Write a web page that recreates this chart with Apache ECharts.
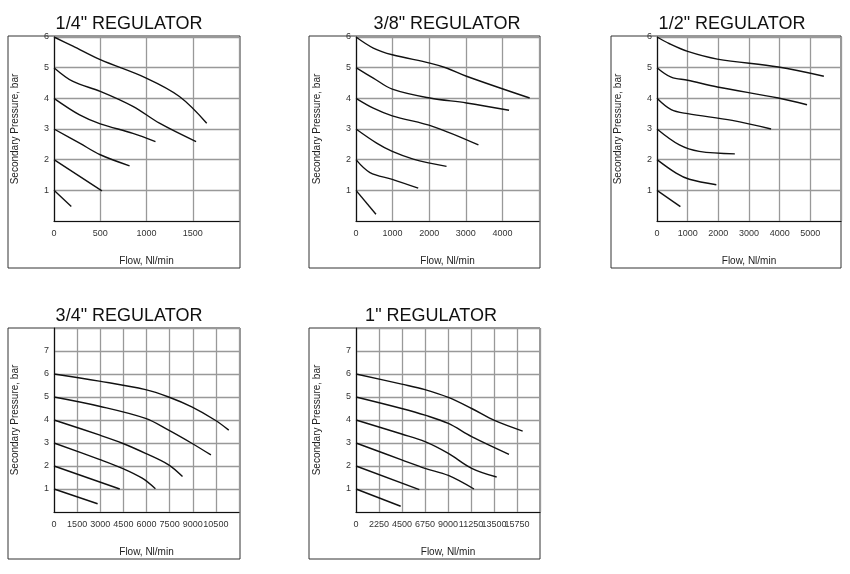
<!DOCTYPE html>
<html><head><meta charset="utf-8">
<script src="https://cdn.jsdelivr.net/npm/echarts@6/dist/echarts.min.js"></script>
<style>html,body{margin:0;padding:0;background:#fff}#c{width:850px;height:574px}</style>
</head><body><div id="c"></div>
<script>
const titles = ['1/4" REGULATOR','3/8" REGULATOR','1/2" REGULATOR','3/4" REGULATOR','1" REGULATOR'];
const xMax = [2000, 5000, 6000, 12000, 18000];
const xInterval = [500, 1000, 1000, 1500, 2250];
const yMax = [6, 6, 6, 8, 8];
// curves per panel: [flow, pressure] pairs
const p1 = [
 [[0,6],[205,5.70],[500,5.26],[997,4.66],[1356,4.06],[1651,3.19]],
 [[0,5],[205,4.55],[500,4.23],[853,3.74],[1140,3.19],[1536,2.59]],
 [[0,4],[277,3.46],[500,3.17],[853,2.86],[1097,2.59]],
 [[0,3],[277,2.54],[500,2.16],[817,1.80]],
 [[0,2],[518,0.98]],
 [[0,1],[187,0.47]]
];
const p2 = [
 [[0,6],[473,5.64],[991,5.42],[2018,5.15],[2473,4.99],[3018,4.72],[4745,4.01]],
 [[0,5],[473,4.66],[991,4.30],[2018,4.01],[3018,3.85],[4182,3.61]],
 [[0,4],[473,3.68],[991,3.43],[2109,3.08],[3345,2.48]],
 [[0,3],[564,2.54],[991,2.27],[1564,2.02],[2473,1.78]],
 [[0,2],[382,1.58],[991,1.36],[1700,1.07]],
 [[0,1],[545,0.22]]
];
const p3 = [
 [[0,6],[409,5.78],[1000,5.53],[1968,5.28],[3957,5.02],[5441,4.72]],
 [[0,5],[462,4.69],[1000,4.59],[1968,4.37],[3957,4.01],[4892,3.79]],
 [[0,4],[462,3.63],[1000,3.50],[2452,3.28],[3720,3.0]],
 [[0,3],[731,2.48],[1376,2.27],[2538,2.19]],
 [[0,2],[624,1.56],[1054,1.36],[1935,1.18]],
 [[0,1],[763,0.47]]
];
const p4 = [
 [[0,6],[2936,5.69],[5936,5.32],[7436,5.0],[8936,4.57],[10436,4.0],[11336,3.56]],
 [[0,5],[2936,4.60],[5936,4.07],[7436,3.56],[8936,2.99],[10179,2.48]],
 [[0,4],[2936,3.35],[4436,2.99],[5936,2.55],[7436,2.05],[8336,1.54]],
 [[0,3],[2936,2.29],[4436,1.90],[5721,1.47],[6579,1.01]],
 [[0,2],[4264,1.0]],
 [[0,1],[2829,0.36]]
];
const p5 = [
 [[0,6],[4467,5.56],[6750,5.32],[9033,4.98],[11315,4.50],[13598,3.97],[16304,3.52]],
 [[0,5],[4467,4.50],[6750,4.21],[9033,3.85],[11315,3.28],[14967,2.51]],
 [[0,4],[4467,3.39],[6750,3.06],[9033,2.55],[11315,1.90],[13761,1.52]],
 [[0,3],[4467,2.27],[6750,1.90],[9033,1.59],[11543,1.0]],
 [[0,2],[6196,0.97]],
 [[0,1],[4370,0.25]]
];
const panels = [p1,p2,p3,p4,p5];

const gridPos = [
 {left:54,top:37,width:185,height:184},
 {left:356,top:37,width:183,height:184},
 {left:657,top:37,width:184,height:184},
 {left:54,top:328,width:185,height:184},
 {left:356,top:328,width:184,height:184}
];
const boxes = [[8,36,232,232],[309,36,231,232],[611,36,230,232],[8,328,232,231],[309,328,231,231]];
const titlePos = [[124,10],[442,10],[727,10],[124,302],[426,302]];
const font = 'Liberation Sans, Arial, sans-serif';

const option = {animation:false, backgroundColor:'#fff',
 title: titles.map((t,i)=>({text:t,left:titlePos[i][0],top:titlePos[i][1],textAlign:'center',
   textStyle:{fontFamily:font,fontSize:18,fontWeight:'normal',color:'#111'}})),
 graphic: boxes.map(b=>({type:'rect',shape:{x:b[0],y:b[1],width:b[2],height:b[3]},
   style:{fill:null,stroke:'#333',lineWidth:1},z:-1})),
 grid: gridPos.map(g=>Object.assign({containLabel:false},g)),
 xAxis: gridPos.map((g,i)=>({type:'value',gridIndex:i,min:0,max:xMax[i],interval:xInterval[i],
   name:'Flow, Nl/min',nameLocation:'middle',nameGap:35,
   nameTextStyle:{fontFamily:font,fontSize:10,color:'#222'},
   axisLine:{lineStyle:{color:'#111',width:1.2}},axisTick:{show:false},
   axisLabel:{fontFamily:font,fontSize:9,color:'#333',margin:8,
     formatter:v=>v>=xMax[i]?'':String(v)},
   splitLine:{show:true,lineStyle:{color:'#999',width:1.3}}})),
 yAxis: gridPos.map((g,i)=>({type:'value',gridIndex:i,min:0,max:yMax[i],interval:1,
   name:'Secondary Pressure, bar',nameLocation:'middle',nameGap:34,
   nameTextStyle:{fontFamily:font,fontSize:10,color:'#222'},
   axisLine:{show:true,lineStyle:{color:'#111',width:1.2}},axisTick:{show:false},
   axisLabel:{fontFamily:font,fontSize:9,color:'#333',margin:5,
     formatter:v=>(v===0||v>=yMax[i]&&yMax[i]===8)?'':String(v)},
   splitLine:{show:true,lineStyle:{color:'#999',width:1.3}}})),
 series: []
};
panels.forEach((curves,i)=>curves.forEach(c=>option.series.push({
  type:'line',xAxisIndex:i,yAxisIndex:i,data:c,smooth:0.35,showSymbol:false,
  lineStyle:{color:'#111',width:1.4}})));
// right/top borders of plot areas
option.xAxis.forEach((a,i)=>{});
echarts.init(document.getElementById('c')).setOption(option);
</script></body></html>
